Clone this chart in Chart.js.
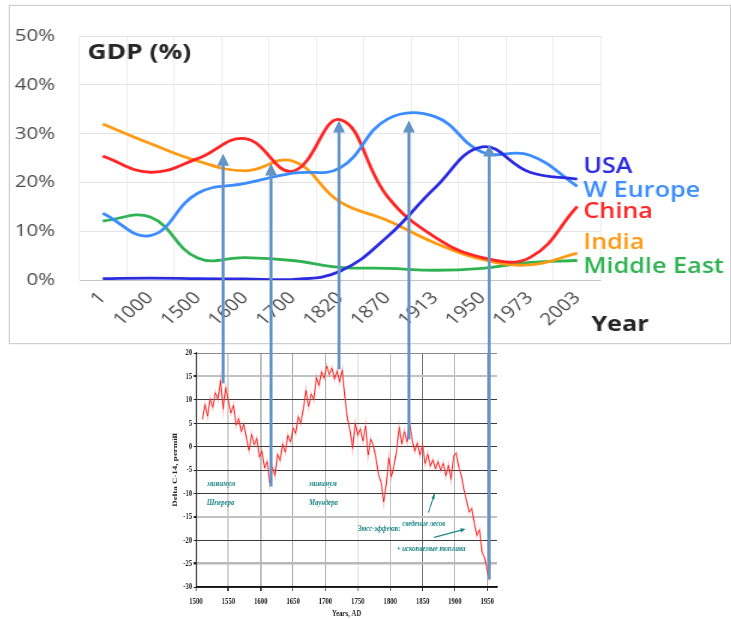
<!DOCTYPE html>
<html>
<head>
<meta charset="utf-8">
<script src="https://cdn.jsdelivr.net/npm/chart.js@4.4.1/dist/chart.umd.min.js"></script>
<style>
  html, body { margin: 0; padding: 0; background: #fff; }
  #page { position: relative; width: 731px; height: 619px; overflow: hidden; }
  #gdpBox { position: absolute; left: 9px; top: 5px; width: 720px; height: 337px;
            border: 1px solid #cfcfcf; box-shadow: 0 0 1px #bbb; }
  #gdpChart { position: absolute; left: 0; top: 0; width: 720px; height: 337px; }
  #c14Chart { position: absolute; left: 168px; top: 344px; width: 332px; height: 275px; }
  #arrows { position: absolute; left: 0; top: 0; z-index: 5; pointer-events: none; }
</style>
</head>
<body>
<div id="page">
  <div id="gdpBox"><canvas id="gdpChart" width="600" height="337" style="width:720px;height:337px"></canvas></div>
  <canvas id="c14Chart" width="443" height="275" style="width:332px;height:275px"></canvas>
  <canvas id="arrows" width="731" height="619"></canvas>
</div>
<script>
// share of world GDP, %
const years = ['1', '1000', '1500', '1600', '1700', '1820', '1870', '1913', '1950', '1973', '2003'];
const usa = [0.3, 0.4, 0.3, 0.2, 0.1, 1.8, 8.9, 18.9, 27.3, 22.1, 20.7];
const westEurope = [13.7, 9.1, 17.8, 19.8, 21.9, 23.0, 33.0, 33.5, 26.2, 25.6, 19.2];
const china = [25.4, 22.1, 24.9, 29.0, 22.3, 32.9, 17.1, 8.8, 4.6, 4.6, 15.1];
const india = [32.0, 28.0, 24.4, 22.4, 24.4, 16.0, 12.2, 7.6, 4.2, 3.1, 5.5];
const middleEast = [12.1, 12.9, 4.5, 4.6, 4.0, 2.6, 2.4, 2.0, 2.4, 3.6, 4.0];

// Delta C-14, permill
const c14Years = [
  1510, 1514, 1518, 1522, 1526, 1530, 1534, 1538, 1542, 1546,
  1550, 1554, 1558, 1562, 1566, 1570, 1574, 1578, 1582, 1586,
  1590, 1594, 1598, 1602, 1606, 1610, 1614, 1618, 1622, 1626,
  1630, 1634, 1638, 1642, 1646, 1650, 1654, 1658, 1662, 1666,
  1670, 1674, 1678, 1682, 1686, 1690, 1694, 1698, 1702, 1706,
  1710, 1714, 1718, 1722, 1726, 1730, 1734, 1738, 1742, 1746,
  1750, 1754, 1758, 1762, 1766, 1770, 1774, 1778, 1782, 1786,
  1790, 1794, 1798, 1802, 1806, 1810, 1814, 1818, 1822, 1826,
  1830, 1834, 1838, 1842, 1846, 1850, 1854, 1858, 1862, 1866,
  1870, 1874, 1878, 1882, 1886, 1890, 1894, 1898, 1902, 1906,
  1910, 1914, 1918, 1922, 1926, 1930, 1934, 1938, 1942, 1946,
  1950, 1952, 1954
];
const c14Values = [
  5.8, 9.0, 6.5, 10.2, 8.4, 11.5, 10.0, 14.2, 8.0, 12.6,
  9.8, 7.2, 8.8, 4.6, 6.0, 3.2, 4.8, 1.8, -0.8, 2.6,
  0.4, 1.8, -2.2, -1.0, -4.6, -3.2, -7.8, -4.4, -6.2, -1.6,
  -3.0, 0.6, -1.2, 2.4, 1.0, 4.0, 2.8, 6.4, 5.0, 8.2,
  12.0, 8.6, 11.2, 10.0, 14.8, 13.0, 16.0, 14.6, 17.2, 15.4,
  16.8, 14.4, 16.2, 13.8, 16.4, 10.6, 6.0, 3.4, -0.4, 5.0,
  2.4, 3.8, 1.2, 4.4, -1.8, 1.6, 0.2, -2.4, -6.0, -7.6,
  -11.8, -8.0, -2.4, -6.4, -4.0, -0.8, 4.2, 0.6, 3.2, 1.0,
  5.0, 1.4, -1.0, 0.8, -1.8, 0.2, -3.6, -1.6, -4.2, -2.8,
  -4.8, -3.2, -5.0, -3.6, -6.2, -4.0, -7.0, -2.0, -1.4, -4.4,
  -6.2, -9.2, -11.6, -14.0, -13.2, -16.4, -19.0, -17.8, -22.6, -23.8,
  -26.6, -27.8, -24.2
];

// notes on the C-14 panel
const noteTexts = ['минимум', 'Шперера', 'минимум', 'Маундера', 'Зюсс-эффект:', 'сведение лесов', '+ ископаемые топлива'];
const noteYears = [1539, 1538, 1696, 1697, 1783, 1852, 1863];
const noteValues = [-7.9, -12, -7.9, -12, -17.5, -16.5, -21.8];

// blue arrows linking the two panels: year, C-14 start, GDP % end
const arrowYears = [1542, 1616, 1721, 1829, 1953];
const arrowFrom = [13.5, -8.5, 16.5, 1.5, -28.4];
const arrowTo = [25.9, 23.9, 32.7, 32.7, 27.8];

const labelShift = [-12, 5, 6, -10, 7];

const endLabels = {
  id: 'endLabels',
  afterDraw(chart) {
    const ctx = chart.ctx;
    const area = chart.chartArea;
    ctx.save();
    ctx.textBaseline = 'middle';
    ctx.font = '600 21px "Open Sans"';
    chart.data.datasets.forEach((ds, i) => {
      const pts = chart.getDatasetMeta(i).data;
      const last = pts[pts.length - 1];
      ctx.fillStyle = ds.borderColor;
      ctx.fillText(ds.label, last.x + 5, last.y + labelShift[i]);
    });
    ctx.fillStyle = '#262626';
    ctx.font = 'bold 22px "Open Sans"';
    ctx.fillText('GDP (%)', area.left + 7, area.top + 17);
    ctx.font = 'bold 21px "Open Sans"';
    ctx.fillText('Year', area.right - 8, area.bottom + 45);
    ctx.restore();
  }
};

function line(label, data, color) {
  return { label: label, data: data, borderColor: color, borderWidth: 2.8,
           pointRadius: 0, tension: 0.42, fill: false };
}

const gdpChart = new Chart(document.getElementById('gdpChart'), {
  type: 'line',
  data: {
    labels: years,
    datasets: [
      line('USA', usa, '#2b2be0'),
      line('W Europe', westEurope, '#3b8cff'),
      line('China', china, '#ff2626'),
      line('India', india, '#ff9a12'),
      line('Middle East', middleEast, '#2fb352')
    ]
  },
  options: {
    responsive: false,
    animation: false,
    events: [],
    layout: { padding: { top: 19, right: 107.5, left: 0, bottom: 0 } },
    plugins: { legend: { display: false }, tooltip: { enabled: false } },
    scales: {
      x: {
        offset: true,
        grid: { offset: true, color: '#ededed', drawTicks: false },
        border: { display: false },
        ticks: { autoSkip: false, minRotation: 45, maxRotation: 45, padding: 8,
                 color: '#4a4a4a', font: { family: 'Open Sans', size: 17 } },
        afterFit(scale) { scale.height = 63; }
      },
      y: {
        min: 0, max: 50,
        grid: { color: ctx => ctx.tick && ctx.tick.value === 0 ? '#c4c4c4' : '#e3e3e3', drawTicks: false },
        border: { display: false },
        ticks: { stepSize: 10, padding: 20, color: '#4a4a4a',
                 font: { family: 'Open Sans', size: 17 },
                 callback: v => v + '%' },
        afterFit(scale) { scale.width = 57.5; }
      }
    }
  },
  plugins: [endLabels]
});

const hGrid = { '20': '#8a8a8a', '15': '#c2c2c2', '-15': '#c2c2c2', '-25': '#b8b8b8' };
const hWide = { '15': 2, '-15': 2, '-25': 2.5 };
const vGrid = { '1550': '#cdcdcd', '1600': '#b0b0b0', '1650': '#7a7a7a', '1700': '#888',
                '1750': '#c4c4c4', '1800': '#a0a0a0', '1850': '#666', '1900': '#a0a0a0', '1950': '#a0a0a0' };

const noteDraw = {
  id: 'noteDraw',
  afterDatasetsDraw(chart) {
    const ctx = chart.ctx;
    const sx = chart.scales.x, sy = chart.scales.y;
    ctx.save();
    ctx.fillStyle = '#1a8585';
    ctx.strokeStyle = '#1a8585';
    ctx.font = 'italic bold 9px "Liberation Serif"';
    ctx.textAlign = 'center';
    ctx.textBaseline = 'middle';
    noteTexts.forEach((t, i) => {
      ctx.fillText(t, sx.getPixelForValue(noteYears[i]), sy.getPixelForValue(noteValues[i]));
    });
    const pointers = [[1859, -14.1, 1868, -10.3], [1868, -19.4, 1914, -17.7]];
    pointers.forEach(p => {
      const x0 = sx.getPixelForValue(p[0]), y0 = sy.getPixelForValue(p[1]);
      const x1 = sx.getPixelForValue(p[2]), y1 = sy.getPixelForValue(p[3]);
      const a = Math.atan2(y1 - y0, x1 - x0);
      ctx.lineWidth = 1.3;
      ctx.beginPath(); ctx.moveTo(x0, y0); ctx.lineTo(x1, y1); ctx.stroke();
      ctx.beginPath();
      ctx.moveTo(x1 + 2 * Math.cos(a), y1 + 2 * Math.sin(a));
      ctx.lineTo(x1 - 5 * Math.cos(a - 0.45), y1 - 5 * Math.sin(a - 0.45));
      ctx.lineTo(x1 - 5 * Math.cos(a + 0.45), y1 - 5 * Math.sin(a + 0.45));
      ctx.closePath(); ctx.fill();
    });
    ctx.restore();
  }
};

const serif = { family: 'Liberation Serif', size: 9, weight: 'bold' };
const c14Points = c14Years.map((y, i) => ({ x: y, y: c14Values[i] }));

const c14Chart = new Chart(document.getElementById('c14Chart'), {
  type: 'line',
  data: {
    datasets: [
      { data: c14Points, borderColor: '#ff1414', borderWidth: 1, pointRadius: 0, tension: 0 },
      { data: c14Points, borderColor: 'rgba(255,110,110,0.35)', borderWidth: 3, pointRadius: 0, tension: 0 }
    ]
  },
  options: {
    responsive: false,
    animation: false,
    events: [],
    layout: { padding: { top: 9, right: 4, left: 0, bottom: 0 } },
    plugins: { legend: { display: false }, tooltip: { enabled: false } },
    scales: {
      x: {
        type: 'linear', min: 1500, max: 1965,
        grid: { color: ctx => ctx.tick ? (vGrid[ctx.tick.value] || '#999') : '#999',
                lineWidth: ctx => ctx.tick && (ctx.tick.value === 1600 || ctx.tick.value === 1550) ? 2 : 1,
                tickLength: 4, tickColor: '#222' },
        border: { color: '#111', width: 1.5 },
        ticks: { stepSize: 50, includeBounds: false, padding: 5, color: '#222', font: serif,
                 callback: v => String(v) },
        title: { display: true, text: 'Years, AD', color: '#222', font: serif, padding: { top: 0, bottom: 0 } },
        afterFit(scale) { scale.height = 32; }
      },
      y: {
        min: -30, max: 20,
        grid: { color: ctx => ctx.tick ? (hGrid[String(ctx.tick.value)] || '#3c3c3c') : '#3c3c3c',
                lineWidth: ctx => ctx.tick ? (hWide[String(ctx.tick.value)] || 1) : 1,
                tickLength: 3, tickColor: '#222' },
        border: { color: '#111', width: 1.5 },
        ticks: { stepSize: 5, padding: 2, color: '#222', font: serif },
        title: { display: true, text: 'Delta C-14, permill', color: '#222', font: serif },
        afterFit(scale) { scale.width = 37.3; }
      }
    }
  },
  plugins: [noteDraw]
});

function drawArrows() {
  const overlay = document.getElementById('arrows');
  const ctx = overlay.getContext('2d');
  const page = document.getElementById('page').getBoundingClientRect();
  const gCanvas = gdpChart.canvas, cCanvas = c14Chart.canvas;
  const gr = gCanvas.getBoundingClientRect(), cr = cCanvas.getBoundingClientRect();
  const kx = cr.width / cCanvas.width;
  const gy = gdpChart.scales.y, cx = c14Chart.scales.x, cy = c14Chart.scales.y;
  ctx.fillStyle = '#6494c8';
  ctx.strokeStyle = '#6494c8';
  ctx.lineWidth = 3;
  arrowYears.forEach((yr, i) => {
    const x = cr.left - page.left + cx.getPixelForValue(yr) * kx;
    const yStart = cr.top - page.top + cy.getPixelForValue(arrowFrom[i]);
    const yTip = gr.top - page.top + gy.getPixelForValue(arrowTo[i]) * (gr.height / gCanvas.height);
    ctx.beginPath();
    ctx.moveTo(x, yStart);
    ctx.lineTo(x, yTip + 10);
    ctx.stroke();
    ctx.beginPath();
    ctx.moveTo(x, yTip);
    ctx.lineTo(x - 6, yTip + 12);
    ctx.lineTo(x + 6, yTip + 12);
    ctx.closePath();
    ctx.fill();
  });
}
drawArrows();
</script>
</body>
</html>
